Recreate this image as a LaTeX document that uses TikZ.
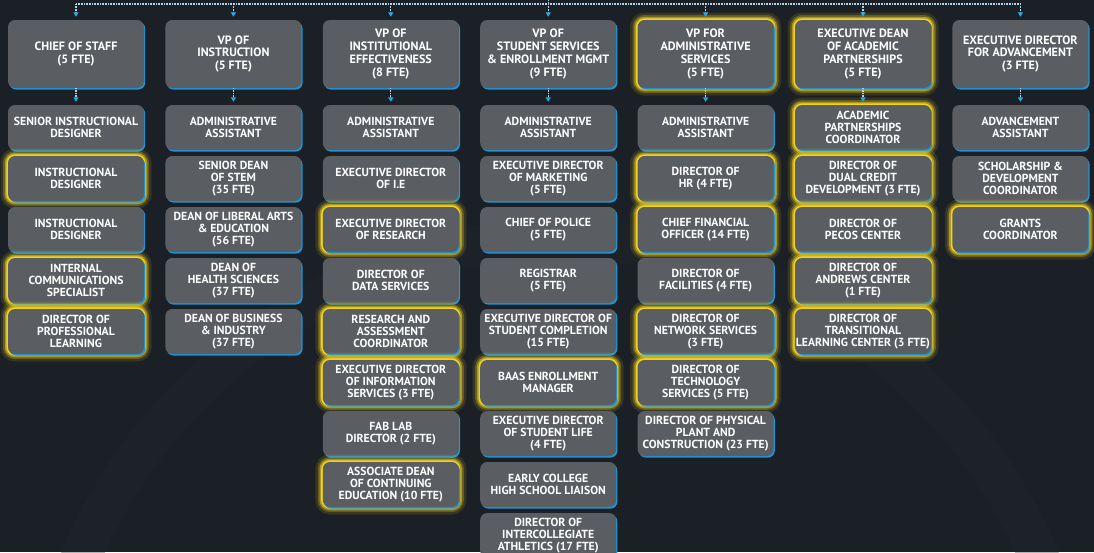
\documentclass[tikz,border=0pt]{standalone}
\usepackage{fontspec}
\setmainfont{PT Sans}
\usetikzlibrary{shadows,arrows.meta}
\definecolor{bg}{RGB}{27,32,38}
\definecolor{bgring}{RGB}{33,39,46}
\definecolor{boxc}{RGB}{90,94,99}
\definecolor{edgec}{RGB}{30,150,215}
\definecolor{glowc}{RGB}{242,210,30}
\definecolor{linec}{RGB}{185,210,230}
\definecolor{tipc}{RGB}{40,170,230}
\tikzset{
  base/.style={rectangle, rounded corners=7pt, fill=boxc, text=white,
    minimum width=136pt, align=center, inner sep=1pt,
    general shadow={fill=edgec, shadow xshift=1.2pt, shadow yshift=-1.6pt}},
  sub/.style={base, minimum height=45pt, font=\fontsize{11.7}{11.7}\selectfont\bfseries},
  head/.style={base, minimum height=68pt, font=\fontsize{12.1}{12.8}\selectfont\bfseries},
  glow/.style={
    preaction={draw=glowc, draw opacity=0.12, line width=15pt},
    preaction={draw=glowc, draw opacity=0.25, line width=10pt},
    preaction={draw=glowc, draw opacity=0.5, line width=6.5pt},
    preaction={draw=glowc, line width=3.2pt}},
  bar/.style={draw=linec, line width=1.1pt, dash pattern=on 0.8pt off 0.8pt},
  arr/.style={bar, -{Triangle[width=5pt,length=4.5pt,fill=tipc,color=tipc]}, shorten >=3pt}
}
\begin{document}
\begin{tikzpicture}[x=1pt,y=-1pt]
\useasboundingbox (0,0) rectangle (1094,552);
\clip (0,0) rectangle (1094,552);
\fill[bg] (0,0) rectangle (1094,552);
\draw[bgring, line width=40pt, opacity=0.35] (560,760) circle (520);
% headers
\node[head] (h1) at (76,54) {CHIEF OF STAFF\\(5 FTE)};
\node[head] (h2) at (233.4,54) {VP OF\\INSTRUCTION\\(5 FTE)};
\node[head] (h3) at (390.8,54) {VP OF\\INSTITUTIONAL\\EFFECTIVENESS\\(8 FTE)};
\node[head] (h4) at (548.2,54) {VP OF\\STUDENT SERVICES\\\& ENROLLMENT MGMT\\(9 FTE)};
\node[glow,head] (h5) at (705.6,54) {VP FOR\\ADMINISTRATIVE\\SERVICES\\(5 FTE)};
\node[glow,head] (h6) at (863,54) {EXECUTIVE DEAN\\OF ACADEMIC\\PARTNERSHIPS\\(5 FTE)};
\node[head] (h7) at (1020.4,54) {EXECUTIVE DIRECTOR\\FOR ADVANCEMENT\\(3 FTE)};
% column 1
\node[sub] (a1) at (76,127.5) {SENIOR INSTRUCTIONAL\\DESIGNER};
\node[glow,sub] (a2) at (76,178.5) {INSTRUCTIONAL\\DESIGNER};
\node[sub] (a3) at (76,229.5) {INSTRUCTIONAL\\DESIGNER};
\node[glow,sub] (a4) at (76,280.5) {INTERNAL\\COMMUNICATIONS\\SPECIALIST};
\node[glow,sub] (a5) at (76,331.5) {DIRECTOR OF\\PROFESSIONAL\\LEARNING};
% column 2
\node[sub] (b1) at (233.4,127.5) {ADMINISTRATIVE\\ASSISTANT};
\node[sub] (b2) at (233.4,178.5) {SENIOR DEAN\\OF STEM\\(35 FTE)};
\node[sub] (b3) at (233.4,229.5) {DEAN OF LIBERAL ARTS\\\& EDUCATION\\(56 FTE)};
\node[sub] (b4) at (233.4,280.5) {DEAN OF\\HEALTH SCIENCES\\(37 FTE)};
\node[sub] (b5) at (233.4,331.5) {DEAN OF BUSINESS\\\& INDUSTRY\\(37 FTE)};
% column 3
\node[sub] (c1) at (390.8,127.5) {ADMINISTRATIVE\\ASSISTANT};
\node[sub] (c2) at (390.8,178.5) {EXECUTIVE DIRECTOR\\OF I.E};
\node[glow,sub] (c3) at (390.8,229.5) {EXECUTIVE DIRECTOR\\OF RESEARCH};
\node[sub] (c4) at (390.8,280.5) {DIRECTOR OF\\DATA SERVICES};
\node[glow,sub] (c5) at (390.8,331.5) {RESEARCH AND\\ASSESSMENT\\COORDINATOR};
\node[glow,sub] (c6) at (390.8,382.5) {EXECUTIVE DIRECTOR\\OF INFORMATION\\SERVICES (3 FTE)};
\node[sub] (c7) at (390.8,433.5) {FAB LAB\\DIRECTOR (2 FTE)};
\node[glow,sub] (c8) at (390.8,484.5) {ASSOCIATE DEAN\\OF CONTINUING\\EDUCATION (10 FTE)};
% column 4
\node[sub] (d1) at (548.2,127.5) {ADMINISTRATIVE\\ASSISTANT};
\node[sub] (d2) at (548.2,178.5) {EXECUTIVE DIRECTOR\\OF MARKETING\\(5 FTE)};
\node[sub] (d3) at (548.2,229.5) {CHIEF OF POLICE\\(5 FTE)};
\node[sub] (d4) at (548.2,280.5) {REGISTRAR\\(5 FTE)};
\node[sub] (d5) at (548.2,331.5) {EXECUTIVE DIRECTOR OF\\STUDENT COMPLETION\\(15 FTE)};
\node[glow,sub] (d6) at (548.2,382.5) {BAAS ENROLLMENT\\MANAGER};
\node[sub] (d7) at (548.2,433.5) {EXECUTIVE DIRECTOR\\OF STUDENT LIFE\\(4 FTE)};
\node[sub] (d8) at (548.2,484.5) {EARLY COLLEGE\\HIGH SCHOOL LIAISON};
\node[sub] (d9) at (548.2,535.5) {DIRECTOR OF\\INTERCOLLEGIATE\\ATHLETICS (17 FTE)};
% column 5
\node[sub] (e1) at (705.6,127.5) {ADMINISTRATIVE\\ASSISTANT};
\node[glow,sub] (e2) at (705.6,178.5) {DIRECTOR OF\\HR (4 FTE)};
\node[glow,sub] (e3) at (705.6,229.5) {CHIEF FINANCIAL\\OFFICER (14 FTE)};
\node[sub] (e4) at (705.6,280.5) {DIRECTOR OF\\FACILITIES (4 FTE)};
\node[glow,sub] (e5) at (705.6,331.5) {DIRECTOR OF\\NETWORK SERVICES\\(3 FTE)};
\node[glow,sub] (e6) at (705.6,382.5) {DIRECTOR OF\\TECHNOLOGY\\SERVICES (5 FTE)};
\node[sub] (e7) at (705.6,433.5) {DIRECTOR OF PHYSICAL\\PLANT AND\\CONSTRUCTION (23 FTE)};
% column 6
\node[glow,sub] (f1) at (863,127.5) {ACADEMIC\\PARTNERSHIPS\\COORDINATOR};
\node[glow,sub] (f2) at (863,178.5) {DIRECTOR OF\\DUAL CREDIT\\DEVELOPMENT (3 FTE)};
\node[glow,sub] (f3) at (863,229.5) {DIRECTOR OF\\PECOS CENTER};
\node[glow,sub] (f4) at (863,280.5) {DIRECTOR OF\\ANDREWS CENTER\\(1 FTE)};
\node[glow,sub] (f5) at (863,331.5) {DIRECTOR OF\\TRANSITIONAL\\LEARNING CENTER (3 FTE)};
% column 7
\node[sub] (g1) at (1020.4,127.5) {ADVANCEMENT\\ASSISTANT};
\node[sub] (g2) at (1020.4,178.5) {SCHOLARSHIP \&\\DEVELOPMENT\\COORDINATOR};
\node[glow,sub] (g3) at (1020.4,229.5) {GRANTS\\COORDINATOR};
% connectors
\coordinate (top) at (548.2,0);
\coordinate (t1) at (76,4);
\coordinate (t2) at (233.4,4);
\coordinate (t3) at (390.8,4);
\coordinate (t4) at (548.2,4);
\coordinate (t5) at (705.6,4);
\coordinate (t6) at (863,4);
\coordinate (t7) at (1020.4,4);
\draw[bar] (t1) -- (t7);
\draw[bar] (top) -- (t4);
\foreach \i in {1,...,7} { \draw[arr] (t\i) -- (h\i); }
\draw[arr] (h1) -- (a1);
\draw[arr] (h2) -- (b1);
\draw[arr] (h3) -- (c1);
\draw[arr] (h4) -- (d1);
\draw[arr] (h5) -- (e1);
\draw[arr] (h6) -- (f1);
\draw[arr] (h7) -- (g1);
\end{tikzpicture}
\end{document}
